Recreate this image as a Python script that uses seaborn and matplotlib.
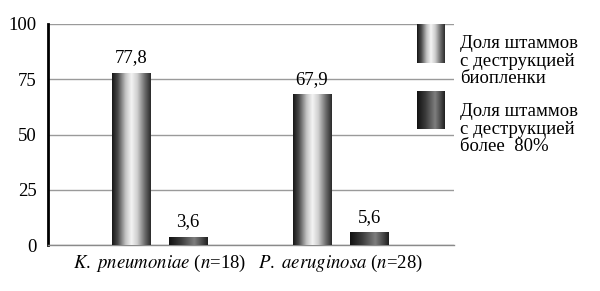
import numpy as np
import pandas as pd
import matplotlib
matplotlib.use("Agg")
import matplotlib.pyplot as plt
from matplotlib.colors import LinearSegmentedColormap
from matplotlib.font_manager import FontProperties, findfont
import seaborn as sns

categories = ["K. pneumoniae (n=18)", "P. aeruginosa (n=28)"]
tick_labels = [r"$\mathit{K.\ pneumoniae}$ ($\mathit{n}$=18)",
               r"$\mathit{P.\ aeruginosa}$ ($\mathit{n}$=28)"]
series = ["Доля штаммов\nс деструкцией\nбиопленки",
          "Доля штаммов\nс деструкцией\nболее  80%"]
values_biofilm = [77.8, 67.9]
values_over80 = [3.6, 5.6]
y_ticks = [0, 25, 50, 75, 100]

df = pd.DataFrame({
    "cat": categories * 2,
    "series": [series[0]] * 2 + [series[1]] * 2,
    "val": values_biofilm + values_over80,
})

plt.rcParams["font.family"] = "Liberation Serif"
plt.rcParams["mathtext.fontset"] = "stix"
serif_file = findfont(FontProperties(family="Liberation Serif"))
print(serif_file)
FP = FontProperties(fname=serif_file, size=13.5)

cmap_light = LinearSegmentedColormap.from_list("light", [
    (0.0, "#161616"), (0.15, "#4a4a4a"), (0.35, "#c4c4c4"),
    (0.5, "#f4f4f4"), (0.65, "#cfcfcf"), (0.85, "#6a6a6a"), (1.0, "#2a2a2a")])
cmap_dark = LinearSegmentedColormap.from_list("dark", [
    (0.0, "#111111"), (0.3, "#3a3a3a"), (0.65, "#7e7e7e"),
    (0.85, "#4a4a4a"), (1.0, "#1e1e1e")])
cmaps = [cmap_light, cmap_dark]
grad = np.linspace(0, 1, 256).reshape(1, -1)

fig = plt.figure(figsize=(6.0, 2.91), dpi=100, facecolor="white")
ax = fig.add_axes([48/600, 1-245/291, (454-48)/600, (245-24)/291])
ax.set_facecolor("white")

sns.barplot(data=df, x="cat", y="val", hue="series", hue_order=series,
            order=categories, width=0.63, gap=0.33, palette=["#888888", "#444444"],
            legend=False, ax=ax, zorder=3)

for i, cont in enumerate(ax.containers):
    for p in cont.patches:
        x0, y0 = p.get_x(), p.get_y()
        w, h = p.get_width(), p.get_height()
        ax.imshow(grad, cmap=cmaps[i], aspect="auto",
                  extent=[x0, x0 + w, y0, y0 + h], zorder=4)
    ax.bar_label(cont, labels=[f"{v:.1f}".replace(".", ",") for v in cont.datavalues],
                 padding=5, zorder=5, fontproperties=FP)

ax.set_xlim(-0.616, 1.627)
ax.set_ylim(0, 100)
ax.set_yticks(y_ticks)
ax.set_yticklabels([str(t) for t in y_ticks], fontproperties=FP)
ax.set_xticks(range(len(categories)))
ax.set_xticklabels(tick_labels, fontproperties=FP)
ax.tick_params(axis="y", length=0, pad=8)
ax.tick_params(axis="x", length=0, pad=6)
ax.set_xlabel("")
ax.set_ylabel("")
ax.yaxis.grid(True, color="#9a9a9a", linewidth=1.0, zorder=0)
ax.xaxis.grid(False)
ax.set_axisbelow(True)
for s in ["top", "right"]:
    ax.spines[s].set_visible(False)
ax.spines["left"].set_color("black")
ax.spines["left"].set_linewidth(2)
ax.spines["bottom"].set_color("#8a8a8a")
ax.spines["bottom"].set_linewidth(1)

# legend
sw_rects = [(417, 24, 28, 39), (417, 91, 28, 38)]
text_y = [44, 112]
for i, (x, y, w, h) in enumerate(sw_rects):
    sax = fig.add_axes([x/600, 1-(y+h)/291, w/600, h/291])
    sax.imshow(grad, cmap=cmaps[i], aspect="auto")
    sax.axis("off")
    fig.text(460/600, 1-(text_y[i]-9)/291, series[i], fontproperties=FP,
             va="top", ha="left", linespacing=1.05)

fig.savefig("out.png", dpi=100, facecolor="white")
